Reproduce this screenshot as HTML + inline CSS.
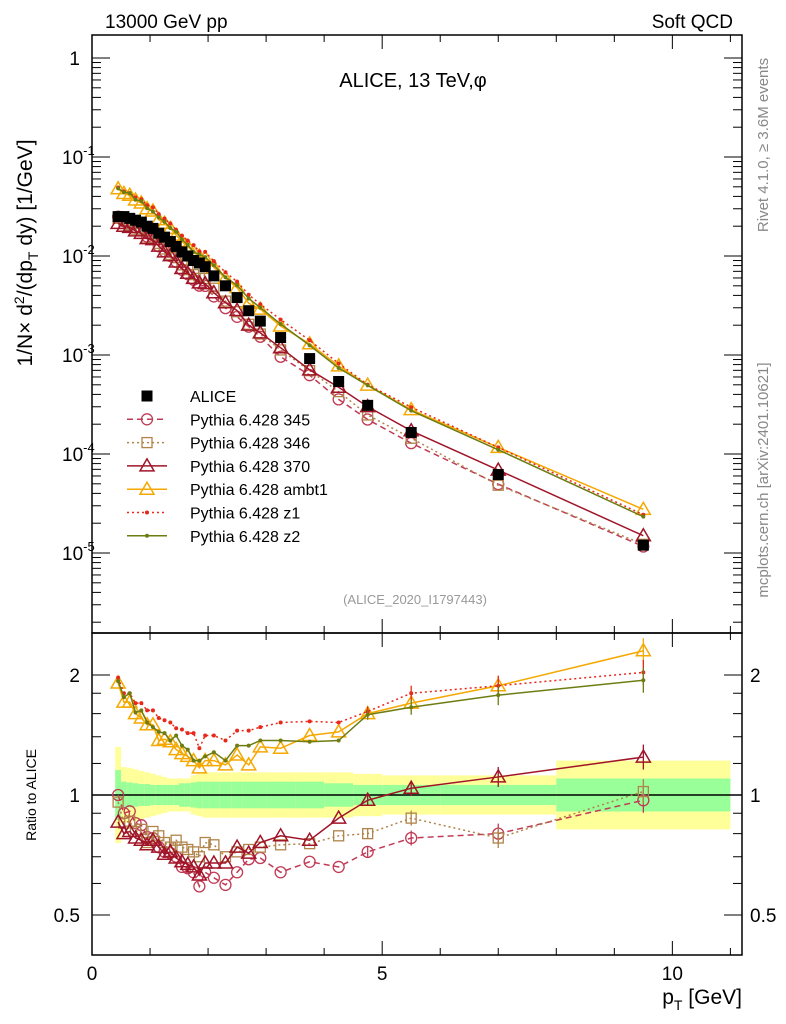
<!DOCTYPE html>
<html><head><meta charset="utf-8"><style>
body{margin:0;background:#fff;}
svg{display:block;font-family:"Liberation Sans",sans-serif;}
</style></head><body>
<svg id="chart" width="786" height="1024" viewBox="0 0 786 1024" xmlns="http://www.w3.org/2000/svg">
<rect x="0" y="0" width="786" height="1024" fill="#fff"/>
<text x="105" y="28" font-size="19">13000 GeV pp</text>
<text x="733" y="28" font-size="19" text-anchor="end">Soft QCD</text>
<text x="413" y="87" font-size="20" text-anchor="middle">ALICE, 13 TeV,φ</text>
<text transform="translate(768,145) rotate(-90)" font-size="15" fill="#888" text-anchor="middle">Rivet 4.1.0, ≥ 3.6M events</text>
<text transform="translate(768,480) rotate(-90)" font-size="15" fill="#888" text-anchor="middle">mcplots.cern.ch [arXiv:2401.10621]</text>
<text x="415" y="604" font-size="13" fill="#999" text-anchor="middle">(ALICE_2020_I1797443)</text>
<text transform="translate(32,253) rotate(-90)" font-size="21" text-anchor="middle">1/N× d<tspan font-size="14" dy="-8">2</tspan><tspan dy="8">/(dp</tspan><tspan font-size="14" dy="6">T</tspan><tspan dy="-6"> dy) [1/GeV]</tspan></text>
<text transform="translate(36,795) rotate(-90)" font-size="14" text-anchor="middle">Ratio to ALICE</text>
<text x="742" y="1004" font-size="21" text-anchor="end">p<tspan font-size="14" dy="6">T</tspan><tspan dy="-6"> [GeV]</tspan></text>
<g id="g"></g>
</svg>
<script>
const pts = [0.45,0.55,0.65,0.75,0.85,0.95,1.05,1.15,1.25,1.35,1.45,1.55,1.65,1.75,1.85,1.95,2.1,2.3,2.5,2.7,2.9,3.25,3.75,4.25,4.75,5.5,7,9.5];
const binEdges = [0.4,0.5,0.6,0.7,0.8,0.9,1.0,1.1,1.2,1.3,1.4,1.5,1.6,1.7,1.8,1.9,2.0,2.2,2.4,2.6,2.8,3.0,3.5,4.0,4.5,5.0,6.0,8.0,11.0];
const alice = [0.025,0.025,0.024,0.023,0.022,0.020,0.019,0.017,0.0155,0.014,0.0125,0.011,0.0100,0.0090,0.0085,0.0078,0.0063,0.0050,0.0038,0.0028,0.0022,0.0015,0.00092,0.00054,0.00031,0.000165,0.000062,0.000012];
const bandTot = [1.32,1.175,1.17,1.16,1.15,1.14,1.13,1.12,1.11,1.10,1.10,1.10,1.10,1.12,1.13,1.14,1.14,1.14,1.14,1.14,1.14,1.14,1.14,1.14,1.13,1.12,1.12,1.22];
const bandStat = [1.155,1.08,1.075,1.07,1.065,1.065,1.06,1.06,1.06,1.06,1.06,1.07,1.07,1.075,1.08,1.08,1.08,1.08,1.08,1.08,1.08,1.08,1.08,1.07,1.06,1.06,1.06,1.10];
const r345 = [1.0,0.9,0.91,0.85,0.84,0.785,0.78,0.74,0.72,0.715,0.70,0.66,0.655,0.64,0.59,0.64,0.62,0.595,0.64,0.69,0.695,0.64,0.68,0.66,0.72,0.78,0.80,0.97];
const r346 = [0.96,0.85,0.86,0.81,0.82,0.76,0.81,0.79,0.76,0.74,0.77,0.74,0.73,0.72,0.70,0.76,0.75,0.70,0.72,0.73,0.74,0.75,0.755,0.79,0.80,0.875,0.78,1.02];
const r370 = [0.855,0.8,0.81,0.78,0.77,0.75,0.77,0.74,0.71,0.72,0.695,0.68,0.67,0.66,0.63,0.675,0.675,0.675,0.74,0.715,0.76,0.79,0.77,0.875,0.97,1.04,1.11,1.245];
const rAmbt1 = [1.91,1.71,1.71,1.6,1.56,1.5,1.5,1.37,1.38,1.36,1.3,1.27,1.25,1.22,1.17,1.22,1.22,1.19,1.26,1.19,1.32,1.31,1.41,1.44,1.6,1.7,1.88,2.3];
const rZ1 = [1.97,1.8,1.8,1.7,1.7,1.63,1.63,1.56,1.54,1.52,1.47,1.46,1.43,1.43,1.31,1.41,1.41,1.37,1.45,1.45,1.48,1.52,1.53,1.52,1.62,1.8,1.88,2.03];
const rZ2 = [1.93,1.76,1.8,1.61,1.63,1.52,1.48,1.44,1.43,1.37,1.41,1.33,1.3,1.22,1.22,1.25,1.28,1.22,1.33,1.33,1.37,1.37,1.36,1.37,1.59,1.66,1.78,1.94];
const xTicks = [0,5,10];
const mainTicks = [1,0.1,0.01,0.001,0.0001,0.00001];
const ratioTicks = [2,1,0.5];

const NS="http://www.w3.org/2000/svg";
const G=document.getElementById('g');
const L=92,R=742,T=35,MB=633,RB=955;
const X=v=>L+v*(R-L)/11.2;
const YM=v=>58-99*Math.log10(v);
const YR=v=>795-120*Math.log2(v);
function mk(tag,attrs,parent){const e=document.createElementNS(NS,tag);for(const k in attrs)e.setAttribute(k,attrs[k]);(parent||G).appendChild(e);return e;}

for(let i=0;i<pts.length;i++){
  const x0=X(binEdges[i]),x1=X(binEdges[i+1]);
  const b=mk('rect',{x:x0,y:YR(bandTot[i]),width:x1-x0,height:YR(1/bandTot[i])-YR(bandTot[i]),fill:'#ffff99'});
  
  
  const s=mk('rect',{x:x0,y:YR(bandStat[i]),width:x1-x0,height:YR(1/bandStat[i])-YR(bandStat[i]),fill:'#99ff99'});
  
  
}
mk('line',{x1:L,x2:R,y1:YR(1),y2:YR(1),stroke:'#000','stroke-width':1.5});

mk('rect',{x:L,y:T,width:R-L,height:MB-T,fill:'none',stroke:'#000','stroke-width':1.5});
mk('rect',{x:L,y:MB,width:R-L,height:RB-MB,fill:'none',stroke:'#000','stroke-width':1.5});

for(let v=0;v<=11;v+=1){
  const big=v%5===0,len=big?14:7;
  mk('line',{x1:X(v),x2:X(v),y1:RB,y2:RB-len,stroke:'#000'});
  mk('line',{x1:X(v),x2:X(v),y1:MB,y2:MB-len,stroke:'#000'});
  mk('line',{x1:X(v),x2:X(v),y1:T,y2:T+len,stroke:'#000'});
  mk('line',{x1:X(v),x2:X(v),y1:MB,y2:MB+len,stroke:'#000'});
}
xTicks.forEach(v=>{const t=mk('text',{x:X(v),y:980,'font-size':19,'text-anchor':'middle'});t.textContent=v;
  
  });

for(let d=0;d>=-6;d--){
  for(let m=1;m<10;m++){
    const v=m*Math.pow(10,d),y=YM(v);
    if(y<T||y>MB)continue;
    const len=m===1?18:9;
    mk('line',{x1:L,x2:L+len,y1:y,y2:y,stroke:'#000'});
    mk('line',{x1:R,x2:R-len,y1:y,y2:y,stroke:'#000'});
  }
}
mainTicks.forEach((v,i)=>{
  const t=mk('text',{x:i===0?80:62,y:YM(v)+7,'font-size':19,'text-anchor':i===0?'end':'start'});
  
  
  if(i===0)t.textContent='1';
  else{t.textContent='10';const s=mk('tspan',{dy:-9,'font-size':13},t);s.textContent=String(Math.round(Math.log10(v)));}
});
[0.5,0.6,0.7,0.8,0.9,1,1.2,1.4,1.6,1.8,2].forEach(v=>{
  const y=YR(v),len=(v===0.5||v===1||v===2)?18:9;
  mk('line',{x1:L,x2:L+len,y1:y,y2:y,stroke:'#000'});
  mk('line',{x1:R,x2:R-len,y1:y,y2:y,stroke:'#000'});
});
ratioTicks.forEach(v=>{
  const a=mk('text',{x:80,y:YR(v)+7,'font-size':19,'text-anchor':'end'});a.textContent=v;
  
  
  const b=mk('text',{x:750,y:YR(v)+7,'font-size':19});b.textContent=v;
  
  
});

function marker(type,x,y,c,parent){
  if(type==='sq')return mk('rect',{x:x-5.5,y:y-5.5,width:11,height:11,fill:'#000'},parent);
  if(type==='circ')return mk('circle',{cx:x,cy:y,r:5.5,fill:'none',stroke:c,'stroke-width':1.3},parent);
  if(type==='osq')return mk('rect',{x:x-5,y:y-5,width:10,height:10,fill:'none',stroke:c,'stroke-width':1.3},parent);
  if(type==='tri')return mk('path',{d:`M${x} ${y-7}L${x+7} ${y+5}L${x-7} ${y+5}Z`,fill:'none',stroke:c,'stroke-width':1.5},parent);
  if(type==='dot')return mk('circle',{cx:x,cy:y,r:2,fill:c},parent);
}
const series=[
 {name:'Pythia 6.428 345',r:r345,c:'#c03a55',dash:'6,4',m:'circ',key:'p345'},
 {name:'Pythia 6.428 346',r:r346,c:'#b0844a',dash:'2,3',m:'osq',key:'p346'},
 {name:'Pythia 6.428 370',r:r370,c:'#a01428',dash:'',m:'tri',key:'p370'},
 {name:'Pythia 6.428 ambt1',r:rAmbt1,c:'#f5a800',dash:'',m:'tri',key:'ambt1'},
 {name:'Pythia 6.428 z1',r:rZ1,c:'#e8281a',dash:'2,3',m:'dot',key:'z1'},
 {name:'Pythia 6.428 z2',r:rZ2,c:'#6e7d12',dash:'',m:'dot',key:'z2'}
];
series.forEach(s=>{
  const g1=mk('g',{});
  
  
  const g2=mk('g',{});
  
  
  const pm=pts.map((p,i)=>X(p)+','+YM(s.r[i]*alice[i])).join(' ');
  const pr=pts.map((p,i)=>X(p)+','+YR(s.r[i])).join(' ');
  mk('polyline',{points:pm,fill:'none',stroke:s.c,'stroke-width':1.5,'stroke-dasharray':s.dash},g1);
  mk('polyline',{points:pr,fill:'none',stroke:s.c,'stroke-width':1.5,'stroke-dasharray':s.dash},g2);
  pts.forEach((p,i)=>{
    marker(s.m,X(p),YM(s.r[i]*alice[i]),s.c,g1);
    const y=YR(s.r[i]);
    if(i>=24){const e=(i-22)*2.5;mk('line',{x1:X(p),x2:X(p),y1:y-e,y2:y+e,stroke:s.c,'stroke-width':1.3},g2);}
    marker(s.m,X(p),y,s.c,g2);
  });
});
const ga=mk('g',{});


pts.forEach((p,i)=>marker('sq',X(p),YM(alice[i]),'#000',ga));

const leg=[{name:'ALICE',m:'sq',c:'#000',dash:null}].concat(series);
leg.forEach((s,i)=>{
  const y=396+i*23.3;
  const g=mk('g',{});
  
  
  if(s.dash!==null)mk('line',{x1:127,x2:167,y1:y,y2:y,stroke:s.c,'stroke-width':1.5,'stroke-dasharray':s.dash},g);
  marker(s.m,147,y,s.c,g);
  const t=mk('text',{x:190,y:y+6,'font-size':16},g);t.textContent=s.name;
});
</script>
</body></html>
